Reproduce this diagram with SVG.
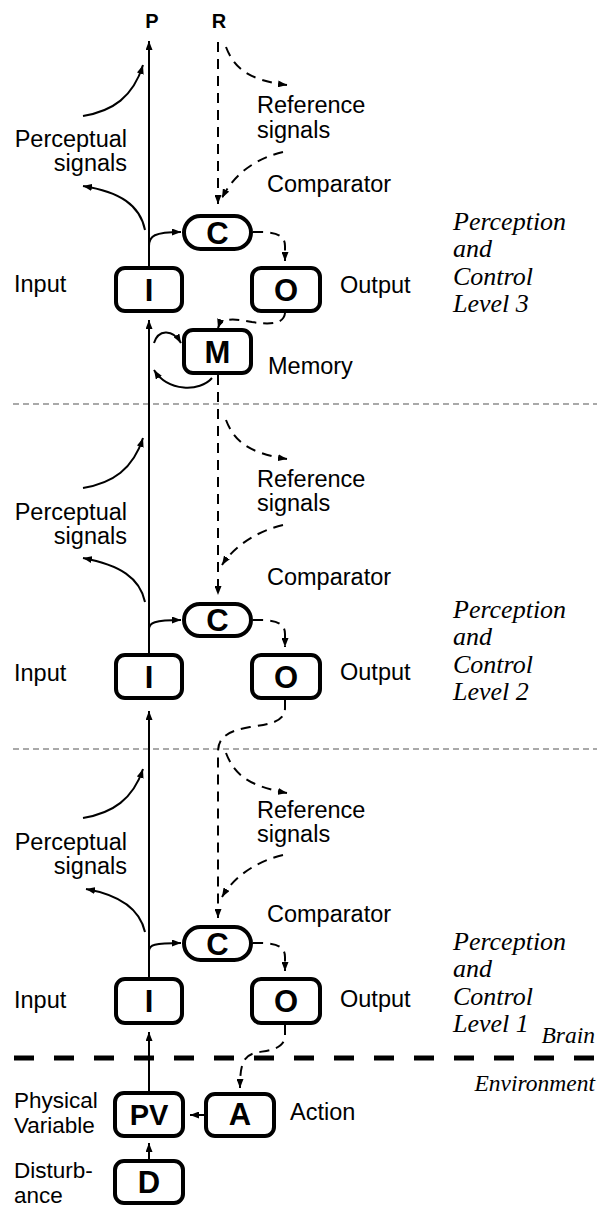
<svg xmlns="http://www.w3.org/2000/svg" width="603" height="1207" viewBox="0 0 603 1207">
<style>
.bg{fill:#fff}
.box{fill:#fff;stroke:#000;stroke-width:4}
.bl{font-family:"Liberation Sans",Arial,sans-serif;font-weight:bold;font-size:31px;text-anchor:middle;fill:#000}
.lb{font-family:"Liberation Sans",Arial,sans-serif;font-size:23.5px;fill:#000}
.lc{font-size:22.5px}
.end{text-anchor:end}
.it{font-family:"Liberation Serif","Times New Roman",serif;font-style:italic;font-size:26px;fill:#000}
.sm{font-size:23.5px}
.pr{font-family:"Liberation Sans",Arial,sans-serif;font-weight:bold;font-size:20px;text-anchor:middle;fill:#000}
.ln{fill:none;stroke:#000;stroke-width:2}
.ds{fill:none;stroke:#000;stroke-width:2;stroke-dasharray:10 7}
.sep{fill:none;stroke:#555;stroke-width:1.2;stroke-dasharray:6 4}
.thk{fill:none;stroke:#000;stroke-width:5;stroke-dasharray:20 20}
</style>
<defs>
<marker id="ah" viewBox="0 0 9 7" refX="9" refY="3.5" markerWidth="9" markerHeight="7" markerUnits="userSpaceOnUse" orient="auto"><path d="M0,0 L9,3.5 L0,7 z" fill="#000"/></marker>
</defs>
<rect class="bg" width="603" height="1207"/>

<g id="separators">
<path class="sep" d="M13,404 H597"/>
<path class="sep" d="M13,749 H597"/>
<path class="thk" d="M14,1058 H596"/>
</g>

<g id="connectors">
<path class="ln" d="M149,266 V41" marker-end="url(#ah)"/>
<path class="ln" d="M149,653 V320" marker-end="url(#ah)"/>
<path class="ln" d="M149,977 V711" marker-end="url(#ah)"/>
<path class="ln" d="M149,1091 V1032" marker-end="url(#ah)"/>
<path class="ln" d="M149,1159 V1143" marker-end="url(#ah)"/>
<path class="ln" d="M204,1115 H190" marker-end="url(#ah)"/>
<path class="ln" d="M83,116 C113,111 133,97 143,65" marker-end="url(#ah)"/>
<path class="ln" d="M145,230 C140,205 120,192 83,186" marker-end="url(#ah)"/>
<path class="ln" d="M83,488 C113,483 133,469 143,438" marker-end="url(#ah)"/>
<path class="ln" d="M145,602 C140,578 120,565 83,558" marker-end="url(#ah)"/>
<path class="ln" d="M83,818 C113,813 133,799 143,769" marker-end="url(#ah)"/>
<path class="ln" d="M145,932 C140,910 120,895 86,889" marker-end="url(#ah)"/>
<path class="ln" d="M149,246 C149,236 154,232 181,232" marker-end="url(#ah)"/>
<path class="ln" d="M149,629 C149,623 154,620 181,620" marker-end="url(#ah)"/>
<path class="ln" d="M149,951 C149,945 154,943 181,943" marker-end="url(#ah)"/>
<path class="ln" d="M154,343 C158,330 172,328 181,343" marker-end="url(#ah)"/>
<path class="ln" d="M212,378 C200,392 168,392 154,370" marker-end="url(#ah)"/>
<path class="ds" d="M218,42 V204" marker-end="url(#ah)"/>
<path class="ds" d="M226,47 C234,68 248,80 287,85" marker-end="url(#ah)"/>
<path class="ds" d="M283,152 C258,158 235,172 222,198" marker-end="url(#ah)"/>
<path class="ds" d="M218,375 V595" marker-end="url(#ah)"/>
<path class="ds" d="M226,420 C234,441 248,453 287,459" marker-end="url(#ah)"/>
<path class="ds" d="M283,525 C258,531 235,545 222,565" marker-end="url(#ah)"/>
<path class="ds" d="M285,700 V708 C285,722 270,724 250,727 C228,731 218,737 218,752 V918" marker-end="url(#ah)"/>
<path class="ds" d="M226,753 C234,774 248,786 287,793" marker-end="url(#ah)"/>
<path class="ds" d="M283,855 C258,861 235,875 222,897" marker-end="url(#ah)"/>
<path class="ds" d="M253,232 C270,232 285,232 285,246 V261" marker-end="url(#ah)"/>
<path class="ds" d="M253,620 C270,620 285,620 285,634 V647" marker-end="url(#ah)"/>
<path class="ds" d="M253,943 C270,943 285,943 285,957 V971" marker-end="url(#ah)"/>
<path class="ds" d="M285,313 C284,324 270,325 252,322 C232,318 221,318 218,328" marker-end="url(#ah)"/>
<path class="ds" d="M285,1025 V1035 C285,1050 268,1050 255,1053 C243,1056 240,1065 240,1088" marker-end="url(#ah)"/>
</g>

<g id="L3-I"><rect class="box" x="116" y="268" width="66" height="43" rx="9"/><text class="bl" x="149" y="301">I</text></g>
<g id="L3-C"><rect class="box" x="184" y="216" width="67" height="33" rx="16.5"/><text class="bl" x="217.5" y="244">C</text></g>
<g id="L3-O"><rect class="box" x="252" y="268" width="68" height="43" rx="9"/><text class="bl" x="286" y="301">O</text></g>
<g id="L3-M"><rect class="box" x="184" y="330" width="67" height="43" rx="9"/><text class="bl" x="217.5" y="363">M</text></g>

<g id="L2-I"><rect class="box" x="116" y="655" width="66" height="43" rx="9"/><text class="bl" x="149" y="688">I</text></g>
<g id="L2-C"><rect class="box" x="184" y="604" width="67" height="32" rx="16"/><text class="bl" x="217.5" y="631">C</text></g>
<g id="L2-O"><rect class="box" x="252" y="655" width="68" height="43" rx="9"/><text class="bl" x="286" y="688">O</text></g>

<g id="L1-I"><rect class="box" x="116" y="979" width="66" height="44" rx="9"/><text class="bl" x="149" y="1012">I</text></g>
<g id="L1-C"><rect class="box" x="184" y="927" width="67" height="33" rx="16.5"/><text class="bl" x="217.5" y="955">C</text></g>
<g id="L1-O"><rect class="box" x="252" y="979" width="68" height="44" rx="9"/><text class="bl" x="286" y="1012">O</text></g>

<g id="PV"><rect class="box" x="115" y="1093" width="68" height="43" rx="9"/><text class="bl" x="149" y="1125" style="font-size:29px">PV</text></g>
<g id="A"><rect class="box" x="206" y="1094" width="68" height="42" rx="9"/><text class="bl" x="240" y="1125">A</text></g>
<g id="D"><rect class="box" x="115" y="1161" width="68" height="42" rx="9"/><text class="bl" x="149" y="1193">D</text></g>

<g id="labels">
<text class="pr" x="152" y="28">P</text>
<text class="pr" x="219" y="28">R</text>

<text class="lb" x="257" y="113">Reference<tspan x="257" dy="25">signals</tspan></text>
<text class="lb end" x="127" y="147">Perceptual<tspan x="127" dy="24">signals</tspan></text>
<text class="lb" x="267" y="192">Comparator</text>
<text class="lb" x="14" y="292">Input</text>
<text class="lb" x="340" y="293">Output</text>
<text class="lb" x="268" y="374">Memory</text>
<text class="it" x="453" y="230">Perception<tspan x="453" dy="27">and</tspan><tspan x="453" dy="28">Control</tspan><tspan x="453" dy="27">Level 3</tspan></text>

<text class="lb" x="257" y="487">Reference<tspan x="257" dy="24">signals</tspan></text>
<text class="lb end" x="127" y="520">Perceptual<tspan x="127" dy="24">signals</tspan></text>
<text class="lb" x="267" y="585">Comparator</text>
<text class="lb" x="14" y="681">Input</text>
<text class="lb" x="340" y="680">Output</text>
<text class="it" x="453" y="618">Perception<tspan x="453" dy="27">and</tspan><tspan x="453" dy="28">Control</tspan><tspan x="453" dy="27">Level 2</tspan></text>

<text class="lb" x="257" y="818">Reference<tspan x="257" dy="24">signals</tspan></text>
<text class="lb end" x="127" y="850">Perceptual<tspan x="127" dy="24">signals</tspan></text>
<text class="lb" x="267" y="922">Comparator</text>
<text class="lb" x="14" y="1008">Input</text>
<text class="lb" x="340" y="1007">Output</text>
<text class="it" x="453" y="950">Perception<tspan x="453" dy="27">and</tspan><tspan x="453" dy="28">Control</tspan><tspan x="453" dy="27">Level 1</tspan></text>

<text class="it sm end" x="595" y="1043">Brain</text>
<text class="it sm end" x="595" y="1091">Environment</text>

<text class="lb lc" x="14" y="1108">Physical<tspan x="14" dy="25">Variable</tspan></text>
<text class="lb" x="290" y="1120">Action</text>
<text class="lb lc" x="14" y="1178">Disturb-<tspan x="14" dy="25">ance</tspan></text>
</g>
</svg>
